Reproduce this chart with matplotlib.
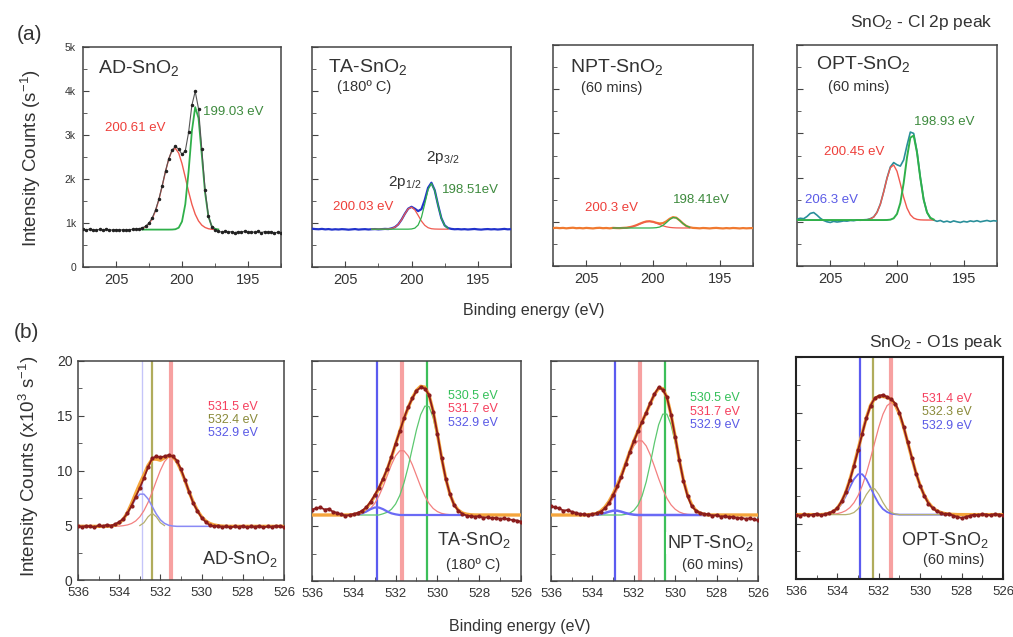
import numpy as np
import matplotlib
matplotlib.use('Agg')
import matplotlib.pyplot as plt
from matplotlib.ticker import MultipleLocator, FuncFormatter

plt.rcParams['font.family'] = ['Liberation Sans', 'DejaVu Sans']
plt.rcParams['mathtext.fontset'] = 'custom'
plt.rcParams['mathtext.rm'] = 'Liberation Sans'
plt.rcParams['mathtext.it'] = 'Liberation Sans:italic'
plt.rcParams['mathtext.bf'] = 'Liberation Sans:bold'

# ---------------- Cl 2p spectra (counts/s), 0.25 eV steps ----------------
cl_be = np.linspace(207.5, 192.5, 61)
cl_fit = slice(18, 42)      # 203.0 -> 197.25 eV
cl_fit_wide = slice(0, 42)  # 207.5 -> 197.25 eV

ad_cl = [870, 845, 860, 850, 838, 855, 842, 858, 846, 840,
         852, 838, 848, 842, 850, 855, 862, 870, 890, 930,
         1000, 1120, 1300, 1540, 1850, 2180, 2460, 2660, 2740, 2680,
         2560, 2640, 3060, 3680, 3990, 3600, 2680, 1750, 1160, 920,
         840, 810, 795, 810, 790, 805, 780, 800, 790, 815,
         785, 800, 790, 810, 780, 805, 790, 800, 775, 790,
         780]
ad_cl_p1 = [879, 915, 983, 1100, 1282, 1531, 1840, 2168, 2458, 2650, 2697, 2588,
            2350, 2038, 1713, 1424, 1200, 1047, 951, 898, 870, 858, 853, 851]
ad_cl_p2 = [850] * 9 + [851, 858, 893, 1034, 1427, 2176, 3092, 3633, 3386, 2549,
                        1684, 1151, 929, 866, 853]

ta_cl = [870, 862, 858, 866, 855, 862, 850, 858, 852, 860,
         856, 848, 855, 862, 850, 856, 860, 852, 858, 862,
         855, 860, 866, 862, 878, 905, 968, 1075, 1210, 1325,
         1368, 1325, 1270, 1315, 1525, 1800, 1915, 1745, 1410, 1110,
         945, 885, 866, 858, 862, 855, 860, 852, 858, 864,
         855, 850, 858, 862, 855, 860, 852, 858, 866, 856,
         860]
ta_cl_p1 = [860, 860, 860, 860, 861, 864, 874, 903, 966, 1072, 1207, 1321,
            1359, 1299, 1174, 1043, 947, 893, 870, 863, 861, 860, 860, 860]
ta_cl_p2 = [860] * 12 + [864, 883, 953, 1129, 1435, 1762, 1900, 1740, 1407, 1109, 943, 881]

npt_cl = [858, 864, 856, 862, 852, 860, 866, 855, 860, 852,
          862, 856, 850, 860, 864, 855, 860, 852, 862, 858,
          856, 862, 866, 878, 896, 922, 955, 985, 1008, 1012,
          1000, 978, 962, 970, 1010, 1068, 1105, 1092, 1032, 962,
          905, 876, 862, 858, 852, 860, 856, 850, 858, 862,
          855, 850, 858, 852, 860, 856, 850, 858, 852, 856,
          858]
npt_cl_p1 = [860, 860, 860, 860, 863, 877, 895, 920, 951, 982, 1004, 1010,
             997, 970, 938, 909, 887, 873, 866, 862, 861, 860, 860, 860]
npt_cl_p2 = [860] * 12 + [862, 867, 882, 919, 980, 1051, 1096, 1088, 1031, 960, 906, 876]

opt_cl = [1060, 1080, 1070, 1120, 1190, 1210, 1150, 1080, 1030, 1000,
          985, 1010, 995, 1005, 1020, 1015, 1030, 1025, 1040, 1035,
          1045, 1050, 1070, 1110, 1215, 1400, 1680, 1990, 2240, 2340,
          2290, 2260, 2400, 2730, 3030, 3000, 2590, 2000, 1505, 1215,
          1080, 1040, 1010, 1030, 995, 1015, 990, 1020, 1000, 985,
          1010, 995, 1020, 1005, 1025, 1000, 1015, 1030, 1010, 1025,
          1015]
opt_cl_p1 = [1040, 1040, 1042, 1046, 1063, 1107, 1209, 1397, 1673, 1984, 2222, 2286,
             2143, 1861, 1554, 1310, 1159, 1084, 1054, 1044, 1041, 1040, 1040, 1040]
opt_cl_p2 = [1040] * 27 + [1041, 1048, 1079, 1178, 1426, 1878, 2456, 2904, 2951, 2567,
                           1989, 1500, 1213, 1091, 1052]

# ---------------- O 1s spectra (x10^3 counts/s), 0.2 eV steps ----------------
o_be = np.linspace(536.0, 526.0, 51)

ad_o = [4.95, 4.85, 4.95, 4.9, 4.8, 5.0, 4.9, 5.05, 4.95, 5.1,
        5.3, 5.6, 6.1, 6.8, 7.6, 8.4, 9.3, 10.3, 11.1, 11.3,
        11.2, 11.3, 11.4, 11.3, 10.9, 10.1, 9.1, 8.0, 7.0, 6.3,
        5.7, 5.3, 5.0, 4.9, 4.95, 4.85, 4.9, 4.8, 4.9, 4.85,
        4.95, 4.8, 4.9, 4.85, 4.95, 4.8, 4.9, 4.85, 4.95, 4.9,
        4.85]
ad_o_env = [4.9] * 7 + [4.91, 4.93, 5.01, 5.19, 5.55, 6.16, 6.98, 7.90, 8.78, 9.60,
                        10.46, 11.03, 11.04, 10.94, 11.15, 11.34, 11.27, 10.81, 10.02,
                        9.04, 8.01, 7.08, 6.33, 5.77, 5.39, 5.16, 5.03, 4.96, 4.92] + [4.9] * 15
ad_o_fit = slice(7, 36)
ad_o_red = [4.9, 4.9, 4.91, 4.92, 4.96, 5.03, 5.16, 5.39, 5.77, 6.33, 7.08, 8.01, 9.04,
            10.02, 10.81, 11.24, 11.24, 10.81, 10.02, 9.04, 8.01, 7.08, 6.33, 5.77,
            5.39, 5.16, 5.03, 4.96, 4.92]
ad_o_blue = [4.91, 4.93, 5.0, 5.17, 5.49, 6.03, 6.72, 7.41, 7.84, 7.84, 7.41, 6.72,
             6.03, 5.49, 5.17, 5.0, 4.93] + [4.9] * 12
ad_o_olive_fit = slice(15, 22)
ad_o_olive = [4.97, 5.23, 5.77, 6.1, 5.77, 5.23, 4.97]
ad_o_peaks = [531.5, 532.4, 532.9]

ta_o = [6.5, 6.6, 6.7, 6.5, 6.55, 6.3, 6.2, 6.05, 5.95, 6.0,
        6.1, 6.2, 6.4, 6.7, 7.2, 7.8, 8.5, 9.3, 10.2, 11.3,
        12.5, 13.6, 14.8, 15.8, 16.6, 17.3, 17.6, 17.5, 16.9, 15.4,
        13.4, 11.2, 9.3, 7.9, 6.9, 6.4, 6.1, 5.95, 5.9, 5.85,
        5.9, 5.75, 5.8, 5.7, 5.75, 5.65, 5.7, 5.6, 5.55, 5.5,
        5.4]
ta_o_env = [6.0] * 9 + [6.01, 6.03, 6.13, 6.30, 6.63, 7.12, 7.73, 8.40, 9.22, 10.15,
                        11.24, 12.44, 13.62, 14.75, 15.75, 16.64, 17.33, 17.70, 17.62,
                        16.91, 15.41, 13.38, 11.21, 9.32, 7.89, 6.95, 6.44, 6.18, 6.07,
                        6.02] + [6.0] * 12
o_fit = slice(9, 39)
ta_o_red = [6.01, 6.03, 6.07, 6.15, 6.31, 6.59, 7.05, 7.72, 8.58, 9.58, 10.57, 11.38,
            11.84, 11.84, 11.38, 10.57, 9.58, 8.58, 7.72, 7.05, 6.59, 6.31, 6.15, 6.07,
            6.03, 6.01, 6.0, 6.0, 6.0, 6.0]
ta_o_green = [6.0] * 8 + [6.11, 6.25, 6.52, 7.00, 7.78, 8.91, 10.37, 12.07, 13.75, 15.12,
                          15.90, 15.86, 14.82, 13.07, 11.06, 9.25, 7.86, 6.95, 6.44,
                          6.18, 6.07, 6.02]
ta_o_blue = [6.0, 6.0, 6.06, 6.15, 6.32, 6.53, 6.68, 6.68, 6.53, 6.32, 6.15, 6.06] + [6.0] * 18
ta_o_peaks = [530.5, 531.7, 532.9]

npt_o = [6.8, 6.7, 6.6, 6.4, 6.45, 6.3, 6.2, 6.1, 6.05, 6.0,
         6.1, 6.15, 6.3, 6.6, 7.1, 7.8, 8.6, 9.5, 10.6, 11.7,
         12.7, 13.6, 14.5, 15.3, 16.2, 17.0, 17.6, 17.4, 16.7, 15.1,
         13.1, 11.0, 9.1, 7.7, 6.8, 6.4, 6.2, 6.1, 6.05, 5.95,
         6.0, 5.85, 5.9, 5.8, 5.85, 5.7, 5.75, 5.65, 5.7, 5.6,
         5.55]
npt_o_env = [6.0] * 9 + [6.03, 6.06, 6.13, 6.36, 6.70, 7.22, 7.91, 8.71, 9.61, 10.64,
                         11.71, 12.72, 13.63, 14.47, 15.30, 16.16, 16.98, 17.51, 17.49,
                         16.69, 15.12, 13.10, 10.98, 9.15, 7.79, 6.92, 6.41, 6.17, 6.06,
                         6.0] + [6.0] * 12
npt_o_red = [6.03, 6.06, 6.13, 6.27, 6.52, 6.92, 7.52, 8.32, 9.31, 10.40, 11.45, 12.28,
             12.74, 12.74, 12.28, 11.45, 10.40, 9.31, 8.32, 7.52, 6.92, 6.52, 6.27, 6.13,
             6.06, 6.03, 6.0, 6.0, 6.0, 6.0]
npt_o_green = [6.0] * 9 + [6.06, 6.17, 6.41, 6.89, 7.73, 9.02, 10.71, 12.58, 14.20, 15.17,
                           15.17, 14.20, 12.58, 10.71, 9.02, 7.73, 6.89, 6.41, 6.17, 6.06,
                           6.0]
npt_o_blue = [6.0, 6.0, 6.03, 6.09, 6.18, 6.30, 6.39, 6.39, 6.30, 6.18, 6.09, 6.03] + [6.0] * 18
npt_o_peaks = [530.5, 531.7, 532.9]

opt_o = [5.8, 5.7, 5.85, 5.75, 5.8, 5.9, 5.75, 5.85, 5.95, 6.1,
         6.4, 7.0, 7.8, 8.9, 10.2, 11.6, 13.1, 14.5, 15.6, 16.3,
         16.5, 16.6, 16.4, 16.2, 15.8, 15.0, 13.7, 12.3, 10.9, 9.5,
         8.4, 7.5, 6.8, 6.4, 6.1, 5.95, 5.85, 5.9, 5.7, 5.6,
         5.5, 5.6, 5.7, 5.8, 5.75, 5.85, 5.8, 5.75, 5.85, 5.8,
         5.75]
opt_o_env = [5.8] * 7 + [5.83, 5.91, 6.07, 6.39, 6.96, 7.80, 8.93, 10.25, 11.68, 13.14,
                         14.53, 15.64, 16.26, 16.46, 16.44, 16.37, 16.18, 15.70, 14.84,
                         13.68, 12.28, 10.86, 9.53, 8.40, 7.52, 6.87, 6.43, 6.15, 5.99,
                         5.89, 5.84, 5.82] + [5.8] * 12
opt_o_fit = slice(7, 39)
opt_o_red = [5.81, 5.82, 5.84, 5.89, 5.99, 6.15, 6.43, 6.87, 7.52, 8.40, 9.53, 10.86,
             12.28, 13.68, 14.84, 15.62, 15.90, 15.62, 14.84, 13.68, 12.28, 10.86, 9.53,
             8.40, 7.52, 6.87, 6.43, 6.15, 5.99, 5.89, 5.84, 5.82]
opt_o_blue = [5.83, 5.89, 6.03, 6.30, 6.77, 7.45, 8.25, 8.99, 9.44, 9.44, 8.99, 8.25,
              7.45, 6.77, 6.30, 6.03, 5.89, 5.83] + [5.8] * 14
opt_o_olive = [5.8] * 6 + [5.85, 5.99, 6.32, 6.90, 7.61, 8.13, 8.13, 7.61, 6.90, 6.32,
                           5.99, 5.85] + [5.8] * 14
opt_o_peaks = [531.4, 532.3, 532.9]

# ---------------- colours ----------------
TXT = '#333333'
RED_FIT, GREEN_FIT = '#f05a50', '#2fb04a'
RED_LBL, GREEN_LBL, BLUE_LBL, OLIVE_LBL = '#ee3f3a', '#3d8a3d', '#5a5ae6', '#8a8a3a'
O_RED_LBL, O_GREEN_LBL = '#f5405e', '#35c05a'
VL_RED, VL_GREEN, VL_BLUE, VL_OLIVE = '#f58a8a', '#3cbf5a', '#5b5bf0', '#b0ac5c'
DATA_O, ENV_O = '#8b1c1c', '#f5a53c'

W, H = 1013, 637
fig = plt.figure(figsize=(W / 100, H / 100), dpi=100)


def box(x0, y0, x1, y1):
    return [x0 / W, 1 - y1 / H, (x1 - x0) / W, (y1 - y0) / H]


def style(ax, top_row, show_y):
    for s in ax.spines.values():
        s.set_linewidth(1.1)
        s.set_color('#444444')
    ax.tick_params(which='both', direction='in', top=False, right=False,
                   colors='#444444', labelcolor=TXT)
    ax.tick_params(which='major', length=4)
    ax.tick_params(which='minor', length=3)
    if top_row:
        ax.set_xlim(207.5, 192.5)
        ax.set_ylim(0, 5000)
        ax.xaxis.set_major_locator(MultipleLocator(5))
        ax.xaxis.set_minor_locator(MultipleLocator(2.5))
        ax.yaxis.set_major_locator(MultipleLocator(1000))
        ax.yaxis.set_minor_locator(MultipleLocator(500))
        ax.yaxis.set_major_formatter(FuncFormatter(
            lambda v, p: '0' if v == 0 else '%dk' % int(v / 1000)))
        ax.tick_params(axis='x', labelsize=10.5, pad=4)
        ax.tick_params(axis='y', labelsize=7.5, pad=5)
    else:
        ax.set_xlim(536, 526)
        ax.set_ylim(0, 20)
        ax.xaxis.set_major_locator(MultipleLocator(2))
        ax.xaxis.set_minor_locator(MultipleLocator(1))
        ax.yaxis.set_major_locator(MultipleLocator(5))
        ax.yaxis.set_minor_locator(MultipleLocator(2.5))
        ax.tick_params(axis='x', labelsize=9.5, pad=5)
        ax.tick_params(axis='y', labelsize=10, pad=4)
    if not show_y:
        ax.tick_params(axis='y', labelleft=False)


# ---------------- (a) Cl 2p ----------------
a1 = fig.add_axes(box(83, 47, 281, 267))
a2 = fig.add_axes(box(312, 47, 511, 267))
a3 = fig.add_axes(box(553, 45, 753, 266))
a4 = fig.add_axes(box(797, 45, 997, 266))

a1.plot(cl_be, ad_cl, '-', color='#555555', lw=0.8, marker='.', ms=3.0,
        mfc='#222222', mec='#222222', zorder=3)
a1.plot(cl_be[cl_fit], ad_cl_p1, color=RED_FIT, lw=1.0, zorder=2)
a1.plot(cl_be[cl_fit], ad_cl_p2, color=GREEN_FIT, lw=1.3, zorder=2)

a2.plot(cl_be, ta_cl, color='#2233cc', lw=1.6, zorder=3)
a2.plot(cl_be[cl_fit], ta_cl_p1, color=RED_FIT, lw=0.9, zorder=4)
a2.plot(cl_be[cl_fit], ta_cl_p2, color=GREEN_FIT, lw=0.9, zorder=4)

a3.plot(cl_be, npt_cl, color='#f07a30', lw=1.6, zorder=3)
a3.plot(cl_be[cl_fit], npt_cl_p1, color=RED_FIT, lw=0.9, zorder=4)
a3.plot(cl_be[cl_fit], npt_cl_p2, color=GREEN_FIT, lw=0.9, zorder=4)

a4.plot(cl_be, opt_cl, color='#2a8f9a', lw=1.2, zorder=3)
a4.plot(cl_be[cl_fit], opt_cl_p1, color=RED_FIT, lw=1.0, zorder=4)
a4.plot(cl_be[cl_fit_wide], opt_cl_p2, color=GREEN_FIT, lw=1.4, zorder=4)

for ax, show in ((a1, True), (a2, False), (a3, False), (a4, False)):
    style(ax, True, show)

a1.text(206.4, 4520, 'AD-SnO$_2$', fontsize=14, color=TXT, va='center')
a1.text(205.8, 3160, '200.61 eV', fontsize=9.5, color=RED_LBL, va='center')
a1.text(198.4, 3520, '199.03 eV', fontsize=9.5, color=GREEN_LBL, va='center')

a2.text(206.3, 4550, 'TA-SnO$_2$', fontsize=14, color=TXT, va='center')
a2.text(205.6, 4090, '(180º C)', fontsize=10.5, color=TXT, va='center')
a2.text(198.9, 2500, '2p$_{3/2}$', fontsize=11, color=TXT, va='center')
a2.text(201.8, 1930, '2p$_{1/2}$', fontsize=11, color=TXT, va='center')
a2.text(205.9, 1360, '200.03 eV', fontsize=9.5, color=RED_LBL, va='center')
a2.text(197.7, 1750, '198.51eV', fontsize=9.5, color=GREEN_LBL, va='center')

a3.text(206.2, 4500, 'NPT-SnO$_2$', fontsize=14, color=TXT, va='center')
a3.text(205.4, 4020, '(60 mins)', fontsize=10.5, color=TXT, va='center')
a3.text(205.1, 1320, '200.3 eV', fontsize=9.5, color=RED_LBL, va='center')
a3.text(198.5, 1500, '198.41eV', fontsize=9.5, color=GREEN_LBL, va='center')

a4.text(206.1, 4570, 'OPT-SnO$_2$', fontsize=14, color=TXT, va='center')
a4.text(205.2, 4050, '(60 mins)', fontsize=10.5, color=TXT, va='center')
a4.text(198.7, 3250, '198.93 eV', fontsize=9.5, color=GREEN_LBL, va='center')
a4.text(205.5, 2590, '200.45 eV', fontsize=9.5, color=RED_LBL, va='center')
a4.text(206.9, 1500, '206.3 eV', fontsize=9.5, color=BLUE_LBL, va='center')

# ---------------- (b) O 1s ----------------
b1 = fig.add_axes(box(78, 361, 284, 580))
b2 = fig.add_axes(box(312, 361, 521, 581))
b3 = fig.add_axes(box(551, 361, 758, 581))
b4 = fig.add_axes(box(796, 357, 1003, 579))


def o1s_panel(ax, data, env, fits, vlines):
    for x, c, lw, al in vlines:
        ax.axvline(x, color=c, lw=lw, alpha=al, zorder=1)
    for sl, y, c, lw in fits:
        ax.plot(o_be[sl], y, color=c, lw=lw, zorder=2)
    ax.plot(o_be, env, color=ENV_O, lw=2.4, zorder=3)
    ax.plot(o_be, data, '-', color=DATA_O, lw=1.3, marker='o', ms=2.0,
            mfc=DATA_O, mec=DATA_O, zorder=4)


o1s_panel(b1, ad_o, ad_o_env,
          [(ad_o_fit, ad_o_red, '#f38080', 0.9),
           (ad_o_fit, ad_o_blue, '#8a8af5', 1.1),
           (ad_o_olive_fit, ad_o_olive, '#b5b070', 0.9)],
          [(ad_o_peaks[0], VL_RED, 3.0, 0.8),
           (ad_o_peaks[1], VL_OLIVE, 1.6, 1.0),
           (ad_o_peaks[2], VL_BLUE, 1.0, 0.35)])
o1s_panel(b2, ta_o, ta_o_env,
          [(o_fit, ta_o_red, '#f38080', 0.9),
           (o_fit, ta_o_green, '#5cc870', 0.9),
           (o_fit, ta_o_blue, '#6a6af5', 1.6)],
          [(ta_o_peaks[0], VL_GREEN, 1.6, 1.0),
           (ta_o_peaks[1], VL_RED, 3.0, 0.8),
           (ta_o_peaks[2], VL_BLUE, 1.6, 1.0)])
o1s_panel(b3, npt_o, npt_o_env,
          [(o_fit, npt_o_red, '#f38080', 0.9),
           (o_fit, npt_o_green, '#5cc870', 0.9),
           (o_fit, npt_o_blue, '#6a6af5', 1.8)],
          [(npt_o_peaks[0], VL_GREEN, 1.6, 1.0),
           (npt_o_peaks[1], VL_RED, 3.0, 0.8),
           (npt_o_peaks[2], VL_BLUE, 1.6, 1.0)])
o1s_panel(b4, opt_o, opt_o_env,
          [(opt_o_fit, opt_o_red, '#f38080', 0.9),
           (opt_o_fit, opt_o_blue, '#6a6af5', 1.3),
           (opt_o_fit, opt_o_olive, '#b5b070', 0.9)],
          [(opt_o_peaks[0], VL_RED, 3.0, 0.8),
           (opt_o_peaks[1], VL_OLIVE, 1.6, 1.0),
           (opt_o_peaks[2], VL_BLUE, 1.6, 1.0)])

for ax, show in ((b1, True), (b2, False), (b3, False), (b4, False)):
    style(ax, False, show)
for s in b4.spines.values():
    s.set_linewidth(1.5)
    s.set_color('#222222')

peak_fs = 9
b1.text(529.7, 15.8, '%.1f eV' % ad_o_peaks[0], fontsize=peak_fs, color=O_RED_LBL, va='center')
b1.text(529.7, 14.6, '%.1f eV' % ad_o_peaks[1], fontsize=peak_fs, color=OLIVE_LBL, va='center')
b1.text(529.7, 13.4, '%.1f eV' % ad_o_peaks[2], fontsize=peak_fs, color=BLUE_LBL, va='center')
b1.text(526.3, 1.9, 'AD-SnO$_2$', fontsize=13, color=TXT, ha='right', va='center')

b2.text(529.5, 16.8, '%.1f eV' % ta_o_peaks[0], fontsize=peak_fs, color=O_GREEN_LBL, va='center')
b2.text(529.5, 15.6, '%.1f eV' % ta_o_peaks[1], fontsize=peak_fs, color=O_RED_LBL, va='center')
b2.text(529.5, 14.4, '%.1f eV' % ta_o_peaks[2], fontsize=peak_fs, color=BLUE_LBL, va='center')
b2.text(526.5, 3.7, 'TA-SnO$_2$', fontsize=13, color=TXT, ha='right', va='center')
b2.text(528.3, 1.45, '(180º C)', fontsize=10.5, color=TXT, ha='center', va='center')

b3.text(529.3, 16.6, '%.1f eV' % npt_o_peaks[0], fontsize=peak_fs, color=O_GREEN_LBL, va='center')
b3.text(529.3, 15.4, '%.1f eV' % npt_o_peaks[1], fontsize=peak_fs, color=O_RED_LBL, va='center')
b3.text(529.3, 14.2, '%.1f eV' % npt_o_peaks[2], fontsize=peak_fs, color=BLUE_LBL, va='center')
b3.text(526.2, 3.45, 'NPT-SnO$_2$', fontsize=13, color=TXT, ha='right', va='center',
        bbox=dict(facecolor='white', edgecolor='none', pad=1))
b3.text(528.2, 1.45, '(60 mins)', fontsize=10.5, color=TXT, ha='center', va='center')

b4.text(529.9, 16.2, '%.1f eV' % opt_o_peaks[0], fontsize=peak_fs, color=O_RED_LBL, va='center')
b4.text(529.9, 15.0, '%.1f eV' % opt_o_peaks[1], fontsize=peak_fs, color=OLIVE_LBL, va='center')
b4.text(529.9, 13.8, '%.1f eV' % opt_o_peaks[2], fontsize=peak_fs, color=BLUE_LBL, va='center')
b4.text(526.7, 3.5, 'OPT-SnO$_2$', fontsize=13, color=TXT, ha='right', va='center')
b4.text(528.4, 1.7, '(60 mins)', fontsize=10.5, color=TXT, ha='center', va='center')

# ---------------- figure labels ----------------
def ftext(x, y, s, **kw):
    fig.text(x / W, 1 - y / H, s, color=TXT, **kw)


ftext(29, 34, '(a)', fontsize=15, ha='center', va='center')
ftext(26, 333, '(b)', fontsize=15, ha='center', va='center')
ftext(993, 22, 'SnO$_2$ - Cl 2p peak', fontsize=12.5, ha='right', va='center')
ftext(1003, 343, 'SnO$_2$ - O1s peak', fontsize=12.5, ha='right', va='center')
ftext(534, 310, 'Binding energy (eV)', fontsize=11.5, ha='center', va='center')
ftext(520, 626, 'Binding energy (eV)', fontsize=11.5, ha='center', va='center')
ftext(31, 158, 'Intensity Counts (s$^{-1}$)', fontsize=13.5, rotation=90,
      ha='center', va='center')
ftext(29, 466, 'Intensity Counts (x10$^3$ s$^{-1}$)', fontsize=13.5, rotation=90,
      ha='center', va='center')

fig.savefig('out.png', dpi=100)
